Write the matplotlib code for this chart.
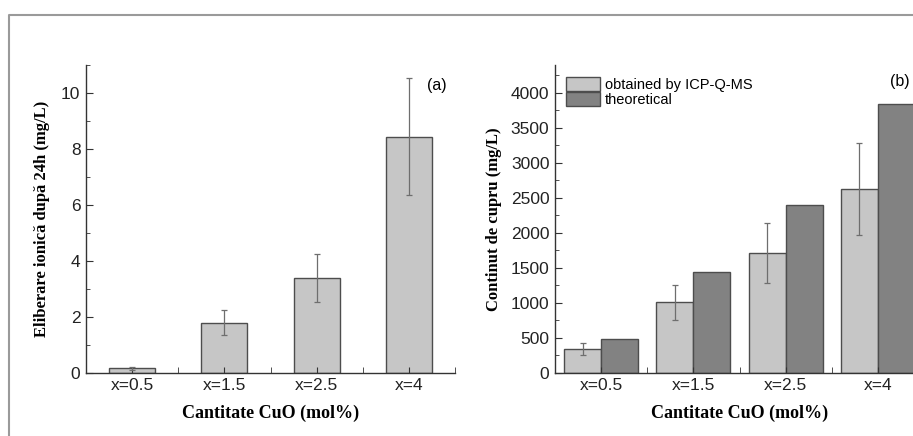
import matplotlib.pyplot as plt
import matplotlib.lines as mlines
from matplotlib.ticker import MultipleLocator
import numpy as np

""" data """
categories = ["x=0.5", "x=1.5", "x=2.5", "x=4"]
ionRelease = [0.16, 1.78, 3.38, 8.44]
ionReleaseErr = [0.05, 0.45, 0.85, 2.1]
copperIcp = [335, 1005, 1715, 2630]
copperIcpErr = [85, 250, 430, 655]
copperTheory = [487, 1447, 2405, 3845]

""" style """
light = "#c6c6c6"
dark = "#828282"
edge = "#4d4d4d"
tickFont = ["Liberation Sans", "DejaVu Sans"]
labelFont = ["Liberation Serif", "DejaVu Serif"]

fig = plt.figure(figsize=(9.13, 4.36), dpi=100)
W, H = 913, 436

""" gray frame around the figure """
fx = 9 / W
fy = 1 - 15 / H
fig.add_artist(mlines.Line2D([fx, fx, 1], [0, fy, fy], transform=fig.transFigure,
                             color="#9a9a9a", lw=1.5))

axA = fig.add_axes([86 / W, (H - 372.7) / H, 369 / W, 307.7 / H])
axB = fig.add_axes([555 / W, (H - 372.7) / H, 369 / W, 307.7 / H])

x = np.arange(len(categories))
errKw = dict(ecolor="#6e6e6e", elinewidth=0.9, capsize=2, capthick=0.9)

""" panel (a) """
axA.bar(x, ionRelease, width=0.5, color=light, edgecolor=edge, linewidth=1.0,
        yerr=ionReleaseErr, error_kw=errKw)
axA.set_ylim(0, 11)
axA.yaxis.set_major_locator(MultipleLocator(2))
axA.yaxis.set_minor_locator(MultipleLocator(1))
axA.set_ylabel("Eliberare ionică după 24h (mg/L)", family=labelFont,
               fontweight="bold", fontsize=12, labelpad=8)
axA.text(0.95, 0.935, "(a)", transform=axA.transAxes, ha="center", va="center",
         family=tickFont, fontsize=11.5)

""" panel (b) """
bw = 0.4
axB.bar(x - bw / 2, copperIcp, width=bw, color=light, edgecolor=edge, linewidth=1.0,
        yerr=copperIcpErr, error_kw=errKw, label="obtained by ICP-Q-MS")
axB.bar(x + bw / 2, copperTheory, width=bw, color=dark, edgecolor=edge, linewidth=1.0,
        label="theoretical")
axB.set_ylim(0, 4400)
axB.yaxis.set_major_locator(MultipleLocator(500))
axB.yaxis.set_minor_locator(MultipleLocator(250))
axB.set_ylabel("Continut de cupru (mg/L)", family=labelFont,
               fontweight="bold", fontsize=12, labelpad=6)
axB.text(0.935, 0.945, "(b)", transform=axB.transAxes, ha="center", va="center",
         family=tickFont, fontsize=11.5)
leg = axB.legend(loc="upper left", bbox_to_anchor=(0.03, 0.96), frameon=False,
                 prop={"family": tickFont, "size": 10.5}, handlelength=2.3,
                 handleheight=1.05, labelspacing=0.0, handletextpad=0.35,
                 borderaxespad=0.0, borderpad=0.0)

for ax in (axA, axB):
    ax.set_xlim(-0.5, 3.5)
    ax.set_xticks(x)
    ax.set_xticklabels(categories)
    ax.set_xticks(np.arange(-0.5, 3.6, 1.0), minor=True)
    ax.set_xlabel("Cantitate CuO (mol%)", family=labelFont, fontweight="bold",
                  fontsize=13, labelpad=8)
    for side in ("top", "right"):
        ax.spines[side].set_visible(False)
    for side in ("left", "bottom"):
        ax.spines[side].set_color("#333333")
        ax.spines[side].set_linewidth(1.0)
    ax.tick_params(axis="both", which="both", direction="in", color="#333333",
                   labelsize=12.5, labelcolor="#222222")
    ax.tick_params(axis="x", which="major", length=4, pad=4)
    ax.tick_params(axis="x", which="minor", length=4)
    ax.tick_params(axis="y", which="major", length=5, pad=4)
    ax.tick_params(axis="y", which="minor", length=3)
    for lab in ax.get_xticklabels() + ax.get_yticklabels():
        lab.set_family(tickFont)

fig.savefig("out.png", dpi=100)
